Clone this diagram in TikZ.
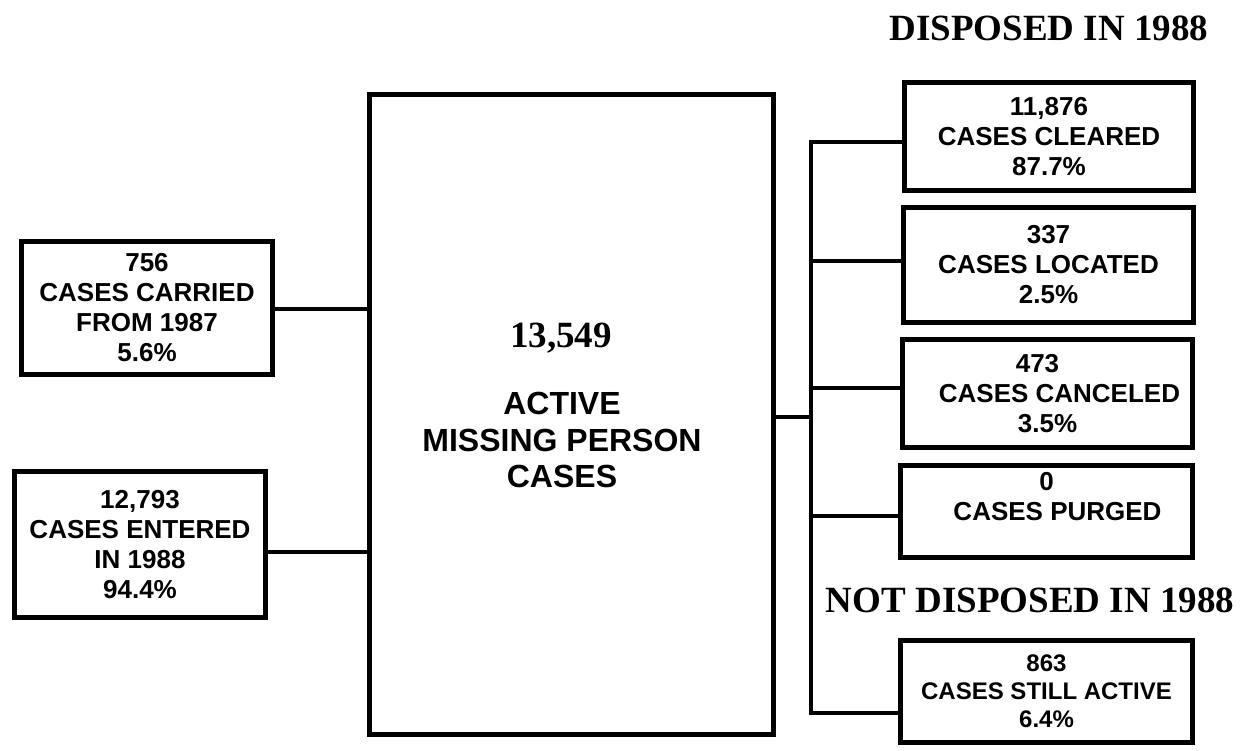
\documentclass[tikz,border=0pt]{standalone}
\usepackage{fontspec}
\setmainfont{Liberation Serif}
\newfontfamily\arialf{Liberation Sans}
\begin{document}
\begin{tikzpicture}[x=1pt,y=-1pt,
  box/.style={draw, line width=5pt, inner sep=0pt, align=center,
    font=\arialf\bfseries\fontsize{26}{30}\selectfont},
  smallbox/.style={box, font=\arialf\bfseries\fontsize{24}{28}\selectfont},
  link/.style={line width=3.5pt},
  head/.style={font=\bfseries\fontsize{37}{40}\selectfont, inner sep=0pt, anchor=base}]
\useasboundingbox (0,0) rectangle (1248,750);
\fill[white] (0,0) rectangle (1248,750);

% left boxes
\node[box, minimum width=251pt, minimum height=133pt] (L1) at (147,308)
  {756\\CASES CARRIED\\FROM 1987\\5.6\%};
\node[box, minimum width=251pt, minimum height=146pt] (L2) at (140,544.5)
  {12,793\\CASES ENTERED\\IN 1988\\94.4\%};

% centre box
\node[box, minimum width=404pt, minimum height=640pt] (C) at (571.5,414.5) {};
\node[inner sep=0pt, anchor=base, font=\bfseries\fontsize{37}{40}\selectfont] (num) at (561,347) {13,549};
\node[inner sep=0pt, anchor=north, align=center,
  font=\arialf\bfseries\fontsize{32}{36.5}\selectfont] (ctext) at (562,392)
  {ACTIVE\\MISSING PERSON\\CASES};

% right boxes
\node[box, minimum width=289pt, minimum height=108pt] (B1) at (1049,136.5)
  {11,876\\CASES CLEARED\\87.7\%};
\node[box, minimum width=290pt, minimum height=115pt] (B2) at (1048.5,265)
  {337\\CASES LOCATED\\2.5\%};
\node[box, minimum width=290pt, minimum height=108pt] (B3) at (1047.5,393.5)
  {473\hspace*{20pt}\\\hspace*{24pt}CASES CANCELED\\3.5\%};
\node[box, minimum width=292pt, minimum height=92pt] (B4) at (1046.5,511.5)
  {0\\\hspace*{22pt}CASES PURGED\\\mbox{}};
\node[smallbox, minimum width=292pt, minimum height=102pt] (B5) at (1046.5,691.5)
  {863\\CASES STILL ACTIVE\\6.4\%};

% headings
\node[head] (disp) at (1049,40) {DISPOSED IN 1988};
\node[head] (notdisp) at (1030,612) {NOT DISPOSED IN 1988};

% connectors left
\coordinate (jL1) at (0,309);
\coordinate (jL2) at (0,552);
\draw[link] (L1.east |- jL1) -- (C.west |- jL1);
\draw[link] (L2.east |- jL2) -- (C.west |- jL2);

% connectors right
\coordinate (trunk) at (811,417);
\coordinate (tTop) at (811,142);
\coordinate (t2) at (811,261);
\coordinate (t3) at (811,388);
\coordinate (t4) at (811,516);
\coordinate (tBot) at (811,713);
\draw[link] (C.east |- trunk) -- (trunk);
\draw[link] (B1.west |- tTop) -- (tTop) -- (tBot) -- (B5.west |- tBot);
\draw[link] (t2) -- (B2.west |- t2);
\draw[link] (t3) -- (B3.west |- t3);
\draw[link] (t4) -- (B4.west |- t4);
\end{tikzpicture}
\end{document}
